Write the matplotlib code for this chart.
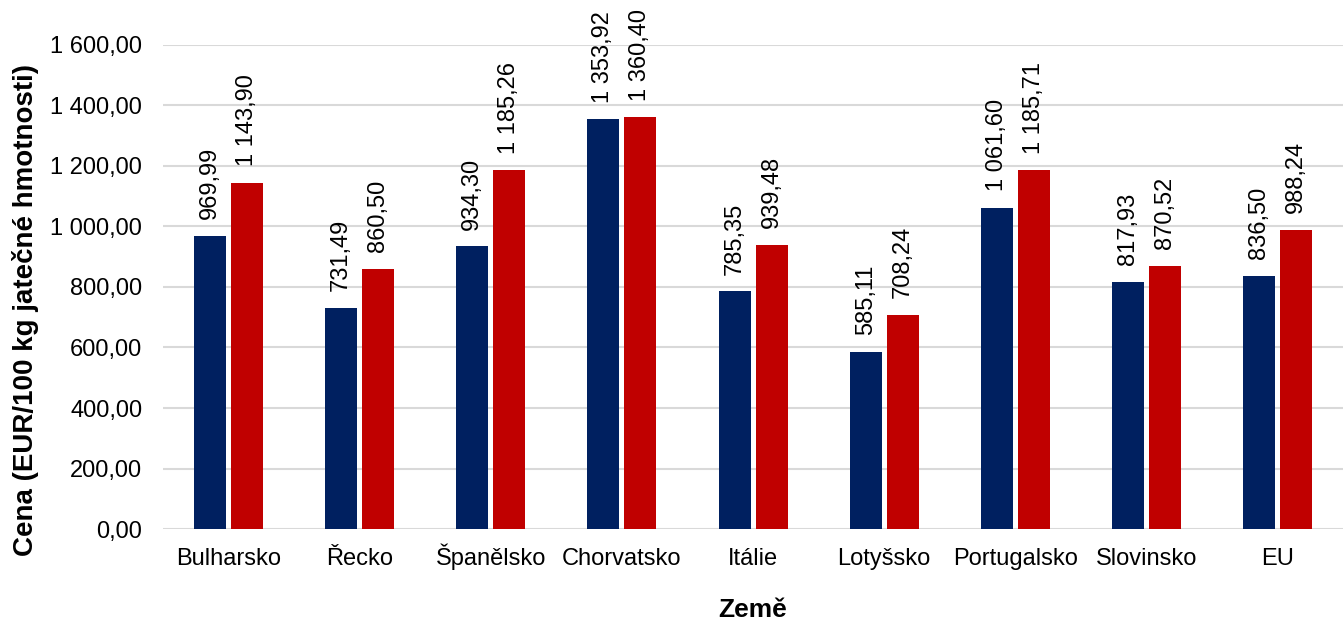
import matplotlib.pyplot as plt
import numpy as np
from matplotlib.ticker import FuncFormatter

plt.rcParams['font.family'] = ['Liberation Sans', 'DejaVu Sans']

countries = ["Bulharsko", "Řecko", "Španělsko", "Chorvatsko", "Itálie",
             "Lotyšsko", "Portugalsko", "Slovinsko", "EU"]
series1 = [969.99, 731.49, 934.30, 1353.92, 785.35, 585.11, 1061.60, 817.93, 836.50]
series2 = [1143.90, 860.50, 1185.26, 1360.40, 939.48, 708.24, 1185.71, 870.52, 988.24]


def czfmt(v):
    s = "{:,.2f}".format(v)
    return s.replace(",", " ").replace(".", ",")


fig = plt.figure(figsize=(13.43, 6.22), dpi=100)
ax = fig.add_axes([0.1214, 0.1495, 0.8786, 0.7782])

x = np.arange(len(countries))
w = 0.244
off = 0.141
b1 = ax.bar(x - off, series1, w, color='#002060', zorder=3)
b2 = ax.bar(x + off, series2, w, color='#C00000', zorder=3)

for bars, vals in ((b1, series1), (b2, series2)):
    for r, v in zip(bars, vals):
        ax.annotate(czfmt(v), (r.get_x() + r.get_width() / 2, v),
                    xytext=(0, 12), textcoords='offset points',
                    rotation=90, ha='center', va='bottom', fontsize=17)

ax.set_xlim(-0.5, len(countries) - 0.5)
ax.set_ylim(0, 1600)
ax.set_yticks(np.arange(0, 1601, 200))
ax.yaxis.set_major_formatter(FuncFormatter(lambda v, p: czfmt(v)))
ax.set_xticks(x)
ax.set_xticklabels(countries)
ax.tick_params(axis='y', length=0, labelsize=17, pad=15)
ax.tick_params(axis='x', length=0, labelsize=17, pad=26)
for lbl in ax.get_xticklabels():
    lbl.set_va('baseline')
ax.grid(axis='y', color='#D9D9D9', linewidth=1.5, zorder=0)
for s in ax.spines.values():
    s.set_visible(False)

ax.set_ylabel('Cena (EUR/100 kg jatečné hmotnosti)', fontsize=20, fontweight='bold')
ax.yaxis.set_label_coords(-0.105, 0.452)
ax.set_xlabel('Země', fontsize=19, fontweight='bold', labelpad=20)

fig.savefig('out.png', dpi=100)
